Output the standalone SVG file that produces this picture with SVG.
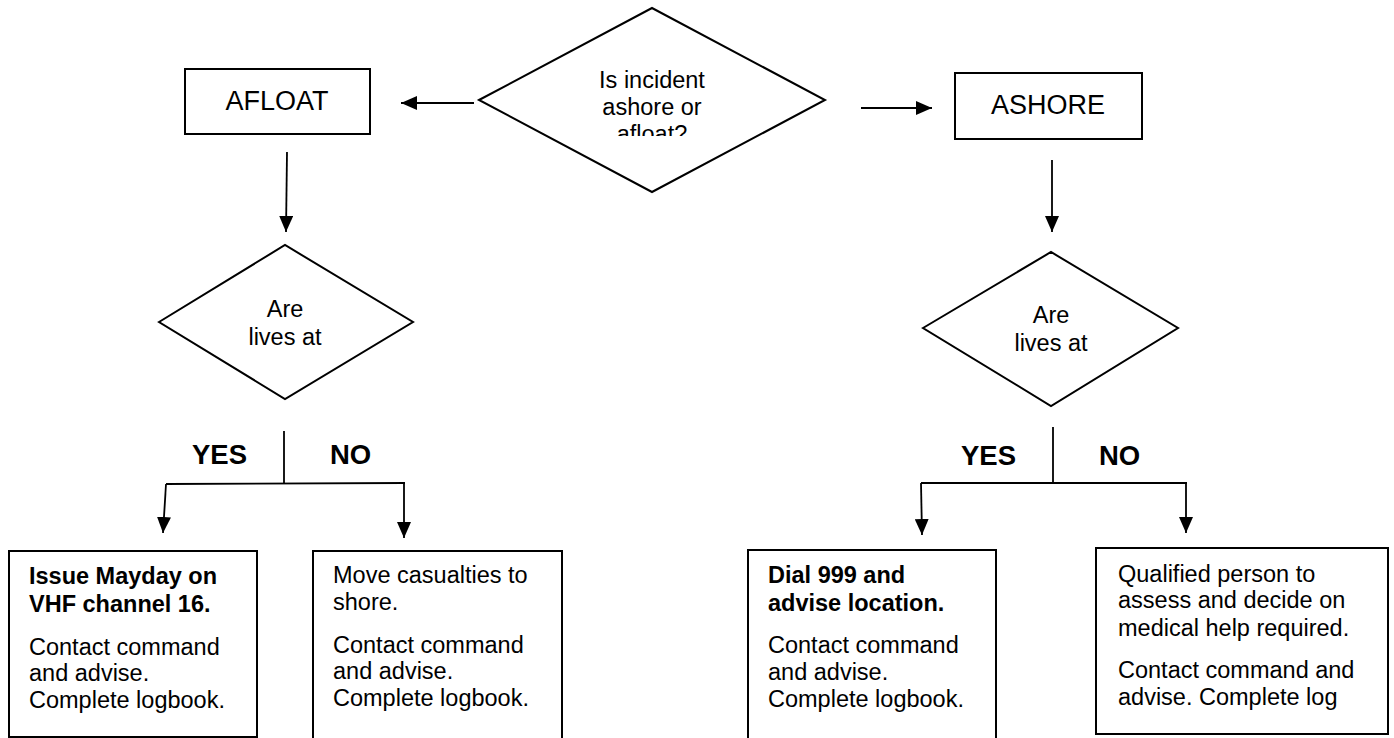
<svg xmlns="http://www.w3.org/2000/svg" width="1394" height="738" viewBox="0 0 1394 738">
<style>
.shape{fill:#fff;stroke:#000;stroke-width:2}
.ln{fill:none;stroke:#000;stroke-width:1.8}
.t{font-family:"Liberation Sans",Arial,sans-serif;fill:#000}
.big{font-size:27px}
.mid{font-size:23.5px}
.yn{font-size:27.5px;font-weight:bold}
.b{font-weight:bold}
</style>
<defs>
<marker id="ah" markerUnits="userSpaceOnUse" markerWidth="16" markerHeight="14" refX="16" refY="7" orient="auto">
<path d="M0,0 L16,7 L0,14 z" fill="#000"/>
</marker>
<clipPath id="clipQ"><rect x="540" y="50" width="230" height="86"/></clipPath>
</defs>
<rect width="1394" height="738" fill="#fff"/>

<g id="connectors">
<line class="ln" x1="474" y1="103" x2="401" y2="103" marker-end="url(#ah)"/>
<line class="ln" x1="861" y1="108" x2="932" y2="108" marker-end="url(#ah)"/>
<line class="ln" x1="287" y1="152" x2="286" y2="232" marker-end="url(#ah)"/>
<line class="ln" x1="1052" y1="160" x2="1052" y2="232" marker-end="url(#ah)"/>
<line class="ln" x1="284" y1="431" x2="284" y2="484"/>
<polyline class="ln" points="166,484 405,483"/>
<line class="ln" x1="166" y1="484" x2="163" y2="533" marker-end="url(#ah)"/>
<line class="ln" x1="404" y1="483" x2="404" y2="538" marker-end="url(#ah)"/>
<line class="ln" x1="1053" y1="427" x2="1053" y2="483"/>
<polyline class="ln" points="921,483 1187,483"/>
<line class="ln" x1="921" y1="483" x2="922" y2="535" marker-end="url(#ah)"/>
<line class="ln" x1="1186" y1="483" x2="1186" y2="533" marker-end="url(#ah)"/>
</g>

<g id="q-incident">
<polygon class="shape" points="479,100 652,8 825,100 652,192"/>
<g clip-path="url(#clipQ)">
<text class="t mid" text-anchor="middle" x="652" y="88">Is incident</text>
<text class="t mid" text-anchor="middle" x="652" y="115">ashore or</text>
<text class="t mid" text-anchor="middle" x="652" y="142">afloat?</text>
</g>
</g>

<g id="afloat">
<rect class="shape" x="185" y="69" width="185" height="65"/>
<text class="t big" text-anchor="middle" x="277" y="110">AFLOAT</text>
</g>

<g id="ashore">
<rect class="shape" x="955" y="73" width="187" height="66"/>
<text class="t big" text-anchor="middle" x="1048" y="114">ASHORE</text>
</g>

<g id="q-lives-afloat">
<polygon class="shape" points="159,322 285,245 413,322 285,399"/>
<text class="t mid" text-anchor="middle" x="285" y="317">Are</text>
<text class="t mid" text-anchor="middle" x="285" y="345">lives at</text>
</g>

<g id="q-lives-ashore">
<polygon class="shape" points="923,328 1051,252 1178,328 1051,406"/>
<text class="t mid" text-anchor="middle" x="1051" y="323">Are</text>
<text class="t mid" text-anchor="middle" x="1051" y="351">lives at</text>
</g>

<g id="labels-afloat">
<text class="t yn" x="192" y="464">YES</text>
<text class="t yn" x="330" y="464">NO</text>
</g>
<g id="labels-ashore">
<text class="t yn" x="961" y="465">YES</text>
<text class="t yn" x="1099" y="465">NO</text>
</g>

<g id="afloat-yes">
<rect class="shape" x="9" y="551" width="248" height="186"/>
<text class="t mid b" x="29" y="584">Issue Mayday on</text>
<text class="t mid b" x="29" y="612">VHF channel 16.</text>
<text class="t mid" x="29" y="655">Contact command</text>
<text class="t mid" x="29" y="681">and advise.</text>
<text class="t mid" x="29" y="708">Complete logbook.</text>
</g>

<g id="afloat-no">
<rect class="shape" x="313" y="551" width="249" height="200"/>
<text class="t mid" x="333" y="583">Move casualties to</text>
<text class="t mid" x="333" y="610">shore.</text>
<text class="t mid" x="333" y="653">Contact command</text>
<text class="t mid" x="333" y="679">and advise.</text>
<text class="t mid" x="333" y="706">Complete logbook.</text>
</g>

<g id="ashore-yes">
<rect class="shape" x="748" y="550" width="248" height="200"/>
<text class="t mid b" x="768" y="583">Dial 999 and</text>
<text class="t mid b" x="768" y="611">advise location.</text>
<text class="t mid" x="768" y="653">Contact command</text>
<text class="t mid" x="768" y="680">and advise.</text>
<text class="t mid" x="768" y="707">Complete logbook.</text>
</g>

<g id="ashore-no">
<rect class="shape" x="1096" y="548" width="292" height="186"/>
<text class="t mid" x="1118" y="582">Qualified person to</text>
<text class="t mid" x="1118" y="608">assess and decide on</text>
<text class="t mid" x="1118" y="636">medical help required.</text>
<text class="t mid" x="1118" y="678">Contact command and</text>
<text class="t mid" x="1118" y="705">advise. Complete log</text>
</g>
</svg>
